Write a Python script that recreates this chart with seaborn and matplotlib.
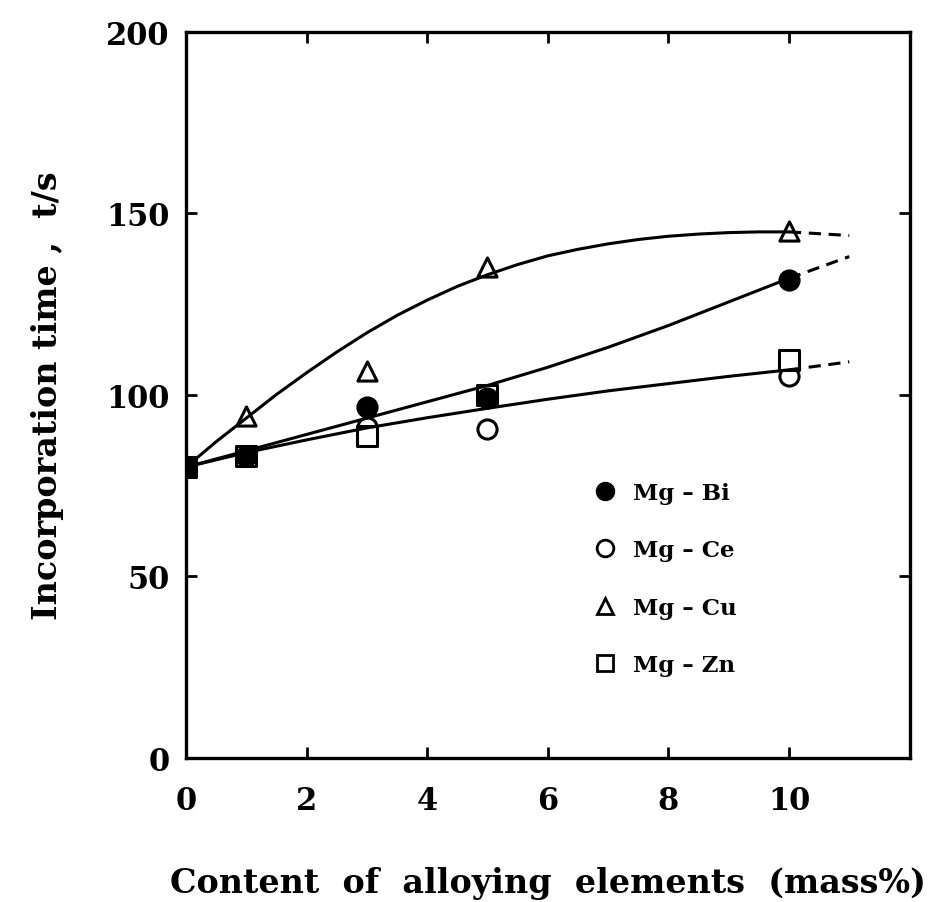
import numpy as np
import pandas as pd
import seaborn as sns
import matplotlib.pyplot as plt
from matplotlib.lines import Line2D

# measured points (x = mass%, y = incorporation time in s)
x_pts = [0, 1, 3, 5, 10]
bi_pts = [80, 83, 96.5, 99, 131.5]
ce_pts = [80, 83, 91, 90.5, 105]
cu_pts = [80, 94, 106.5, 135, 145]
zn_pts = [80, 83, 88.5, 100, 109.5]

# fitted curves
cu_x = [0, 0.5, 1, 1.5, 2, 2.5, 3, 3.5, 4, 4.5, 5, 5.5, 6, 6.5, 7, 7.5,
        8, 8.5, 9, 9.5, 10]
cu_curve = [80, 87, 93.5, 100, 106, 111.7, 117, 121.8, 126, 129.8, 133,
            135.8, 138.2, 140, 141.5, 142.7, 143.6, 144.2, 144.6, 144.8, 144.8]
curve_x = [0, 1, 2, 3, 4, 5, 6, 7, 8, 9, 10]
bi_curve = [80, 84.5, 89, 93.5, 98, 102.5, 107.5, 113, 119, 125.5, 132]
low_curve = [80, 84, 87.5, 90.8, 93.6, 96.2, 98.7, 101, 103, 105, 106.8]

# dashed extrapolation from 10 to 11
ext_x = [10, 11]
cu_ext = [144.8, 143.8]
bi_ext = [132, 138]
low_ext = [106.8, 109]

sns.set_style("ticks")
plt.rcParams['font.family'] = ['DejaVu Serif']
plt.rcParams['font.weight'] = 'bold'
for key in ['text.color', 'axes.labelcolor', 'xtick.color', 'ytick.color',
            'axes.edgecolor']:
    plt.rcParams[key] = 'black'

fig = plt.figure(figsize=(9.3, 9.03), dpi=100)
ax = fig.add_axes([0.2, 0.16, 0.778, 0.804])

lw = 2.2
sns.lineplot(x=cu_x, y=cu_curve, ax=ax, color='black', lw=lw, legend=False,
             zorder=4)
for yy in [bi_curve, low_curve]:
    sns.lineplot(x=curve_x, y=yy, ax=ax, color='black', lw=lw, legend=False,
                 zorder=4)
for yy in [cu_ext, bi_ext, low_ext]:
    sns.lineplot(x=ext_x, y=yy, ax=ax, color='black', lw=lw, legend=False,
                 linestyle=(0, (4, 2.5)), zorder=4)

ms = 190
ew = 2.2
sns.scatterplot(x=x_pts, y=ce_pts, ax=ax, marker='o', s=ms, facecolor='white',
                edgecolor='black', linewidth=ew, zorder=3)
sns.scatterplot(x=x_pts, y=zn_pts, ax=ax, marker='s', s=ms, facecolor='white',
                edgecolor='black', linewidth=ew, zorder=3)
sns.scatterplot(x=x_pts, y=cu_pts, ax=ax, marker='^', s=ms, facecolor='white',
                edgecolor='black', linewidth=ew, zorder=3)
sns.scatterplot(x=x_pts, y=bi_pts, ax=ax, marker='o', s=ms, facecolor='black',
                edgecolor='black', linewidth=ew, zorder=3)

ax.set_xlim(0, 12)
ax.set_ylim(0, 200)
ax.set_xticks([0, 2, 4, 6, 8, 10])
ax.set_yticks([0, 50, 100, 150, 200])
ax.tick_params(direction='in', length=8, width=2, top=True, right=True,
               labelsize=22)
ax.tick_params(axis='x', pad=20)
ax.tick_params(axis='y', pad=12)
for sp in ax.spines.values():
    sp.set_linewidth(2.4)

ax.set_xlabel('Content  of  alloying  elements  (mass%)', fontsize=24,
              fontweight='bold', labelpad=36)
ax.set_ylabel('Incorporation time ,  t/s', fontsize=24, fontweight='bold',
              labelpad=30)

handles = [
    Line2D([], [], marker='o', ls='', ms=12, mfc='black', mec='black', mew=2),
    Line2D([], [], marker='o', ls='', ms=12, mfc='white', mec='black', mew=2),
    Line2D([], [], marker='^', ls='', ms=11, mfc='white', mec='black', mew=2),
    Line2D([], [], marker='s', ls='', ms=12, mfc='white', mec='black', mew=2),
]
labels = ['Mg – Bi', 'Mg – Ce', 'Mg – Cu', 'Mg – Zn']
ax.legend(handles, labels, loc='upper left', bbox_to_anchor=(0.535, 0.408),
          frameon=False, labelspacing=1.55, handletextpad=0.7,
          handlelength=1.0, prop={'weight': 'bold', 'size': 16.5})

plt.savefig('out.png', dpi=100)
